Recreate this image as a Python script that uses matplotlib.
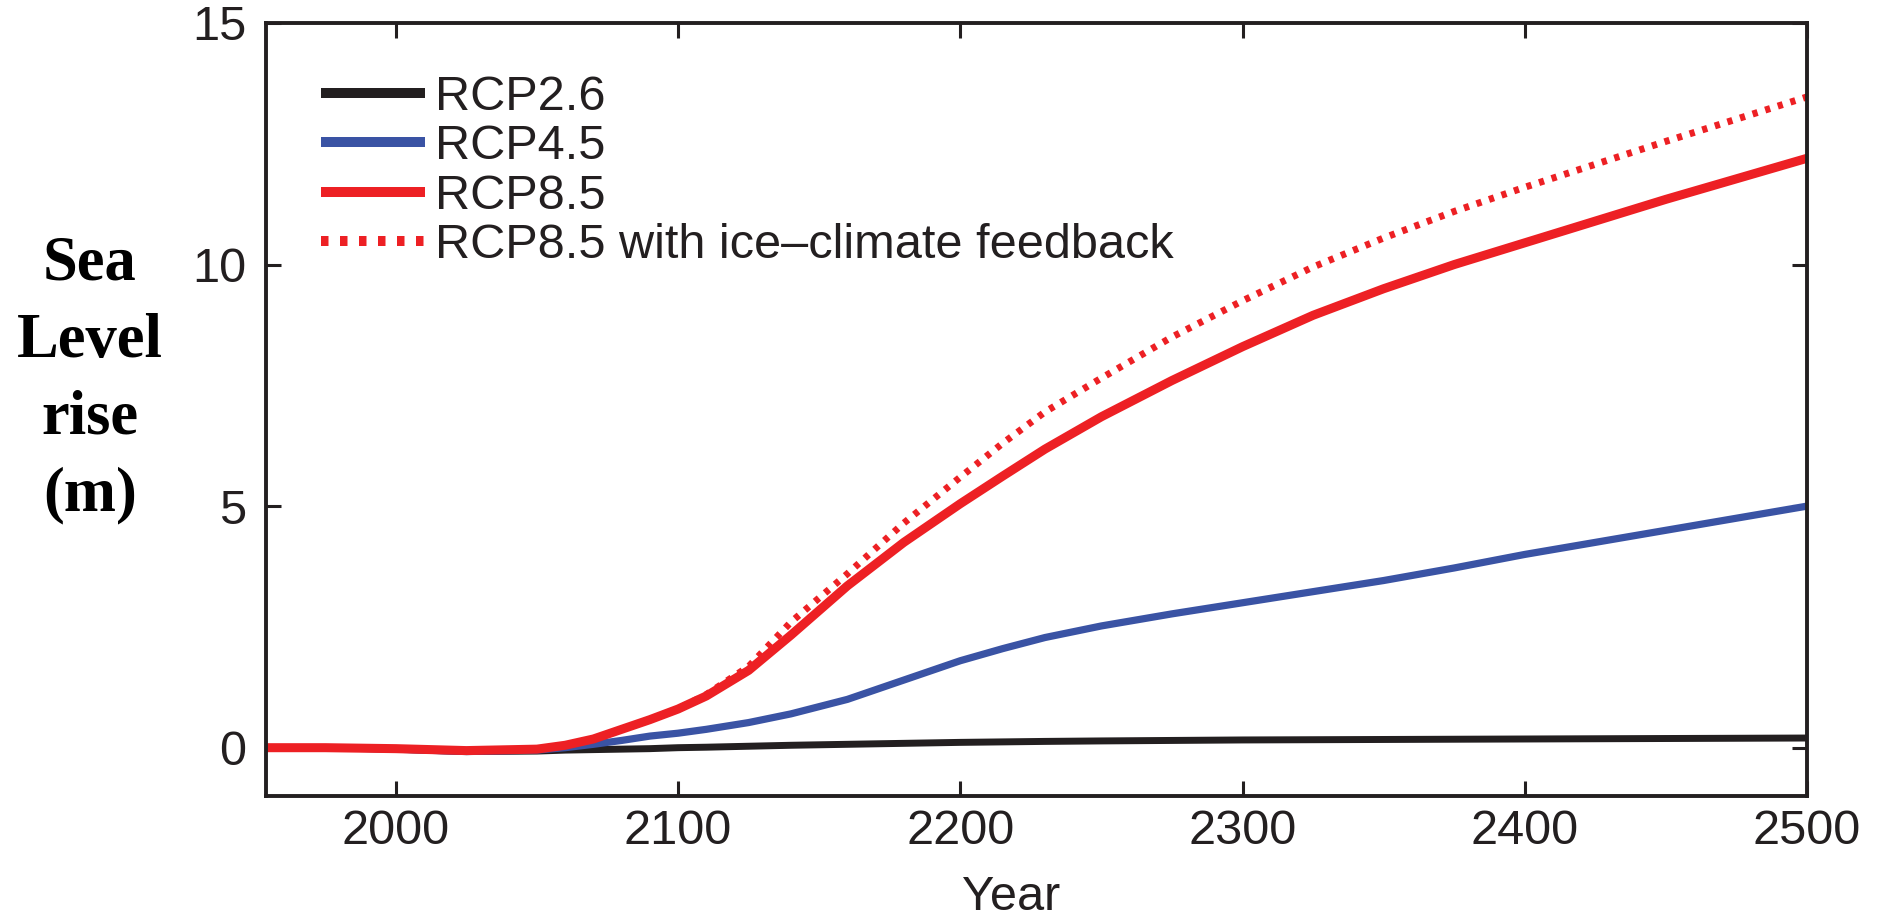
import numpy as np
import matplotlib
matplotlib.use("Agg")
import matplotlib.pyplot as plt

# values (sea level rise in m)
years = [1954, 1975, 2000, 2025, 2050, 2060, 2070, 2080, 2090, 2100, 2110,
         2125, 2140, 2160, 2180, 2200, 2215, 2230, 2250, 2275, 2300, 2325,
         2350, 2375, 2400, 2450, 2500]

rcp26 = [0.0, 0.0, -0.03, -0.08, -0.07, -0.05, -0.04, -0.03, -0.02, 0.0, 0.01,
         0.03, 0.05, 0.07, 0.09, 0.11, 0.12, 0.13, 0.14, 0.15, 0.16, 0.165,
         0.17, 0.175, 0.18, 0.19, 0.2]

rcp45 = [0.0, 0.0, -0.03, -0.08, -0.05, 0.0, 0.07, 0.15, 0.24, 0.3, 0.38,
         0.52, 0.7, 1.0, 1.4, 1.8, 2.05, 2.28, 2.52, 2.77, 3.0, 3.23,
         3.46, 3.72, 4.0, 4.5, 5.0]

rcp85 = [0.0, 0.0, -0.02, -0.06, -0.03, 0.05, 0.18, 0.38, 0.58, 0.8, 1.07,
         1.6, 2.33, 3.35, 4.25, 5.05, 5.62, 6.18, 6.85, 7.6, 8.3, 8.95,
         9.5, 10.0, 10.45, 11.35, 12.2]

rcp85_fb = [0.0, 0.0, -0.02, -0.06, -0.03, 0.05, 0.18, 0.38, 0.58, 0.8, 1.1,
            1.68, 2.6, 3.6, 4.65, 5.6, 6.3, 6.95, 7.65, 8.5, 9.25, 9.95,
            10.55, 11.1, 11.6, 12.55, 13.47]

labels = ["RCP2.6", "RCP4.5", "RCP8.5", "RCP8.5 with ice\u2013climate feedback"]
x_ticks = [2000, 2100, 2200, 2300, 2400, 2500]
y_ticks = [0, 5, 10, 15]

black = "#231f20"
blue = "#3a53a4"
red = "#ed2024"

plt.rcParams['font.family'] = ['Liberation Sans', 'DejaVu Sans']

fig = plt.figure(figsize=(18.84, 9.17), dpi=100)
ax = fig.add_axes([266/1884, 1-796/917, (1807-266)/1884, (796-23)/917])

ax.plot(years, rcp26, color=black, lw=5.0, label=labels[0], solid_capstyle='butt')
ax.plot(years, rcp45, color=blue, lw=5.2, label=labels[1], solid_capstyle='butt')
ax.plot(years, rcp85, color=red, lw=6.5, label=labels[2], solid_capstyle='butt')
ax.plot(years, rcp85_fb, color=red, lw=5.0, linestyle=(0, (0.75, 1.15)),
        label=labels[3])

ax.set_xlim(1954, 2500)
ax.set_ylim(-1, 15)
ax.set_xticks(x_ticks)
ax.set_yticks(y_ticks)

for s in ax.spines.values():
  s.set_linewidth(2.8)
  s.set_color(black)

ax.tick_params(direction='in', length=11, width=2.2, color=black,
               top=True, right=True, labelsize=35, labelcolor=black)
ax.tick_params(axis='y', pad=14)
ax.tick_params(axis='x', pad=9)

leg = ax.legend(loc='upper left', bbox_to_anchor=(321/1884, 1-75/917),
                bbox_transform=fig.transFigure, frameon=False, fontsize=35,
                handlelength=2.14, handletextpad=0.2, labelspacing=0.09,
                borderpad=0, borderaxespad=0)
for t in leg.get_texts():
  t.set_color(black)
for l in leg.get_lines():
  l.set_linewidth(7.2)

fig.text(1011/1884, 1-910/917, "Year", ha='center', va='baseline',
         fontsize=35, color=black)

fig.text(90/1884, 1-380/917, "Sea\nLevel\nrise\n(m)", ha='center', va='center',
         multialignment='center', fontsize=45, fontweight='bold',
         family=['Liberation Serif', 'DejaVu Serif'], linespacing=1.43)

fig.savefig("out.png", dpi=100)
